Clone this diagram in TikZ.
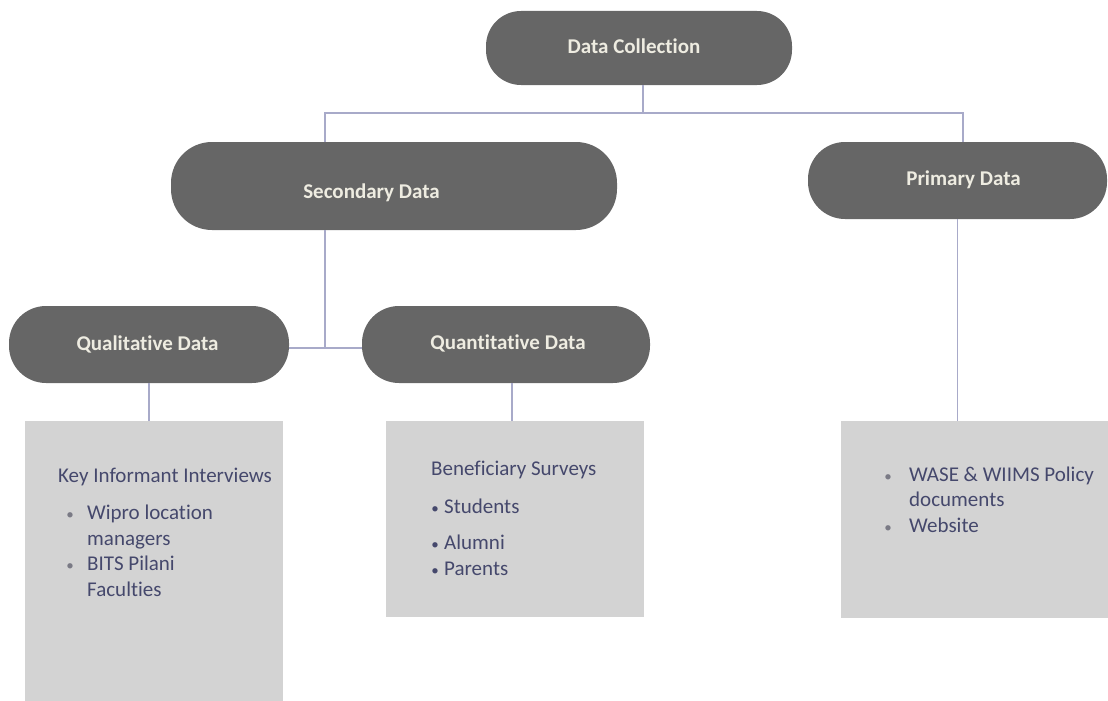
\documentclass[tikz,border=0pt]{standalone}
\usepackage{fontspec}
\setmainfont{Carlito}[Ligatures={NoCommon}]
\definecolor{pillfill}{HTML}{666666}
\definecolor{pilltext}{HTML}{EEECE1}
\definecolor{boxfill}{HTML}{D3D3D3}
\definecolor{bodytext}{HTML}{45486C}
\definecolor{bulletc}{HTML}{7A7A85}
\definecolor{connc}{HTML}{A8AAC9}
\begin{document}
\begin{tikzpicture}[x=1pt,y=-1pt,
  pill/.style={rectangle, rounded corners=35pt, fill=pillfill, inner sep=0pt, outer sep=0pt},
  ptext/.style={anchor=base, inner sep=0pt, text=pilltext, font=\fontsize{21}{25}\selectfont\bfseries},
  gbox/.style={rectangle, fill=boxfill, inner sep=0pt, outer sep=0pt, anchor=north west},
  body/.style={anchor=base west, inner sep=0pt, text=bodytext, font=\fontsize{21}{25}\selectfont},
  bul/.style={anchor=base, inner sep=0pt, text=bulletc, font=\fontsize{15}{18}\selectfont},
  conn/.style={draw=connc, line width=1.5pt}]
\useasboundingbox (0,0) rectangle (1108,701);

% pills
\node[pill, minimum width=306pt, minimum height=74pt] (dc) at (639,48) {};
\node[pill, rounded corners=41pt, minimum width=446pt, minimum height=88pt] (sec) at (394,186) {};
\node[pill, rounded corners=37pt, minimum width=299pt, minimum height=77pt] (pri) at (957.5,180.5) {};
\node[pill, rounded corners=37pt, minimum width=280pt, minimum height=77pt] (qual) at (149,344.5) {};
\node[pill, rounded corners=37pt, minimum width=288pt, minimum height=77pt] (quant) at (506,344.5) {};

\node[ptext] (dct) at (634,54) {Data Collection};
\node[ptext] (sect) at (371.5,198) {Secondary Data};
\node[ptext] (prit) at (963.5,185) {Primary Data};
\node[ptext] (qualt) at (147.5,350) {Qualitative Data};
\node[ptext] (quantt) at (508,349) {Quantitative Data};

% grey boxes
\node[gbox, minimum width=258pt, minimum height=280pt] (b1) at (25,421) {};
\node[gbox, minimum width=258pt, minimum height=196pt] (b2) at (386,421) {};
\node[gbox, minimum width=267pt, minimum height=197pt] (b3) at (841,421) {};

% connectors
\coordinate (top) at (643,113);
\coordinate (secx) at (325,0);
\coordinate (prix) at (963,0);
\coordinate (mid) at (325,348);
\coordinate (quantx) at (512,0);
\draw[conn] (dc.south -| top) -- (top);
\draw[conn] (sec.north -| secx) |- (top) -| (pri.north -| prix);
\draw[conn] (sec.south -| secx) -- (mid);
\draw[conn] (qual.east |- mid) -- (quant.west |- mid);
\draw[conn] (qual.south) -- (qual.south |- b1.north);
\draw[conn] (quant.south -| quantx) -- (b2.north -| quantx);
\draw[conn] (pri.south) -- (pri.south |- b3.north);

% box 1 text
\node[body] (k1) at (58,482) {Key Informant Interviews};
\node[bul] (k2b) at (70,519) {•};
\node[body] (k2) at (87,519) {Wipro location};
\node[body] (k3) at (87,545) {managers};
\node[bul] (k4b) at (70,570) {•};
\node[body] (k4) at (87,570) {BITS Pilani};
\node[body] (k5) at (87,596) {Faculties};

% box 2 text
\node[body] (s1) at (431,475) {Beneficiary Surveys};
\node[bul, text=bodytext] (s2b) at (435,513) {•};
\node[body] (s2) at (444,513) {Students};
\node[bul, text=bodytext] (s3b) at (435,549) {•};
\node[body] (s3) at (444,549) {Alumni};
\node[bul, text=bodytext] (s4b) at (435,575) {•};
\node[body] (s4) at (444,575) {Parents};

% box 3 text
\node[bul] (p1b) at (888,481) {•};
\node[body] (p1) at (909,481) {WASE \& WIIMS Policy};
\node[body] (p2) at (909,506) {documents};
\node[bul] (p3b) at (888,532) {•};
\node[body] (p3) at (909,532) {Website};
\end{tikzpicture}
\end{document}
